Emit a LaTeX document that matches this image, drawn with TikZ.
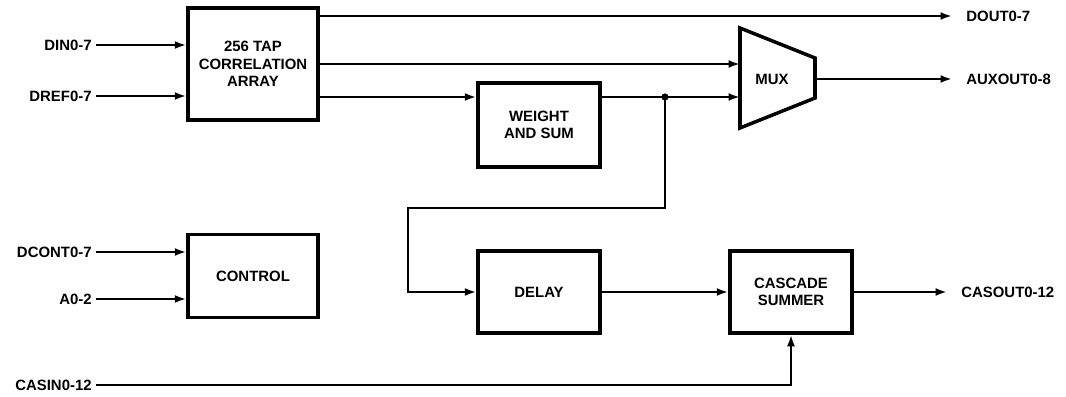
\documentclass[tikz,border=0pt]{standalone}
\usepackage{fontspec}
\setmainfont{Liberation Sans}
\usetikzlibrary{arrows.meta, positioning}
\tikzstyle{arrow} = [line width=1.3pt, -{Latex[length=2.3mm,width=1.6mm]}]
\tikzstyle{wire}  = [line width=1.3pt]
\tikzstyle{block} = [rectangle, draw, line width=2pt, align=center, inner sep=0pt]
\tikzstyle{sig}   = [inner sep=0.08cm]
\tikzstyle{outsig} = [inner ysep=0.08cm, inner xsep=0.28cm]
\tikzset{every node/.style={align=center, font=\bfseries\fontsize{8.5}{9.8}\selectfont}}

\begin{document}
\begin{tikzpicture}[x=0.02cm, y=-0.02cm]
  \useasboundingbox (0,0) rectangle (1066,396);

  % Blocks
  \node[block, minimum width=2.6cm, minimum height=2.24cm] (corr) at (253,64) {256 TAP\\CORRELATION\\ARRAY};
  \node[block, minimum width=2.6cm, minimum height=1.66cm] (ctrl) at (253,276) {CONTROL};
  \node[block, minimum width=2.44cm, minimum height=1.68cm] (wsum) at (539,125) {WEIGHT\\AND SUM};
  \node[block, minimum width=2.44cm, minimum height=1.64cm] (delay) at (539,292) {DELAY};
  \node[block, minimum width=2.44cm, minimum height=1.64cm] (casc) at (791,292) {CASCADE\\SUMMER};

  % Multiplexer
  \coordinate (muxtl) at (740,28);  \coordinate (muxtr) at (815,58);
  \coordinate (muxbr) at (815,98);  \coordinate (muxbl) at (740,128);
  \draw[line width=2pt, line join=miter] (muxtl) -- (muxtr) -- (muxbr) -- (muxbl) -- cycle;
  \node (mux) at (772,79) {MUX};
  \coordinate (muxout) at (815,79);

  % Input labels
  \node[sig, anchor=east] (din)   at (96,45)  {DIN0-7};
  \node[sig, anchor=east] (dref)  at (96,96)  {DREF0-7};
  \node[sig, anchor=east] (dcont) at (96,252) {DCONT0-7};
  \node[sig, anchor=east] (addr)  at (96,299) {A0-2};
  \node[sig, anchor=east] (casin) at (96,385) {CASIN0-12};

  % Output labels
  \node[outsig, anchor=west] (dout)   at (952,16)  {DOUT0-7};
  \node[outsig, anchor=west] (auxout) at (952,79)  {AUXOUT0-8};
  \node[outsig, anchor=west] (casout) at (947,292) {CASOUT0-12};

  % Inputs
  \draw[arrow] (din.east)   -- (corr.west |- din);
  \draw[arrow] (dref.east)  -- (corr.west |- dref);
  \draw[arrow] (dcont.east) -- (ctrl.west |- dcont);
  \draw[arrow] (addr.east)  -- (ctrl.west |- addr);

  % Array outputs
  \coordinate (c1) at (318,16);
  \coordinate (c2) at (318,64);
  \coordinate (c3) at (318,97);
  \draw[arrow] (c1) -- (dout.west |- c1);
  \draw[arrow] (c2) -- (muxtl |- c2);
  \draw[arrow] (c3) -- (wsum.west |- c3);

  % Weight and sum to mux and delay
  \coordinate (tap) at (665,97);
  \draw[wire] (wsum.east |- tap) -- (tap);
  \draw[arrow] (tap) -- (muxtl |- tap);
  \fill (tap) circle (3.6);
  \coordinate (loop) at (408,208);
  \draw[arrow] (tap) |- (loop) |- (delay.west);

  % Mux output
  \draw[arrow] (muxout) -- (auxout.west);

  % Cascade path
  \draw[arrow] (delay.east) -- (casc.west);
  \draw[arrow] (casc.east) -- (casout.west);
  \draw[arrow] (casin.east) -| (casc.south);
\end{tikzpicture}
\end{document}
